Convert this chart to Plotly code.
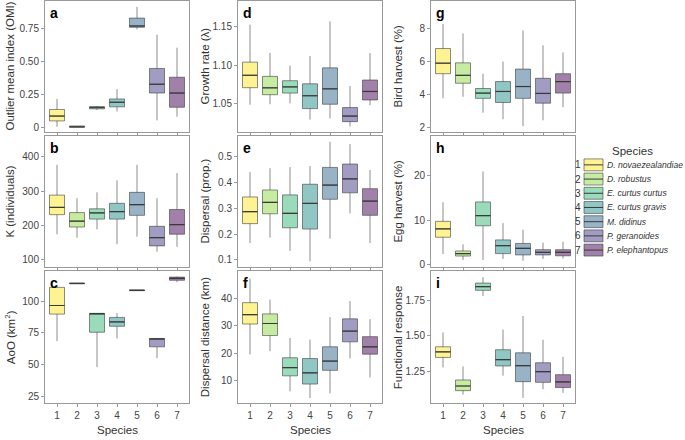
import plotly.graph_objects as go

W, H = 685, 440

species_ids = [1, 2, 3, 4, 5, 6, 7]
species_names = ["D. novaezealandiae", "D. robustus", "E. curtus curtus", "E. curtus gravis",
                 "M. didinus", "P. geranoides", "P. elephantopus"]
viridis7 = [(253, 231, 37), (143, 215, 68), (53, 183, 121), (33, 144, 140),
            (49, 104, 142), (68, 58, 131), (68, 1, 84)]

# Panel a: Outlier mean index (OMI)
a_low = [0.003, 0.0, 0.13, 0.12, 0.745, 0.052, 0.08]
a_q1 = [0.048, 0.0, 0.14, 0.155, 0.76, 0.26, 0.152]
a_med = [0.085, 0.003, 0.152, 0.19, 0.77, 0.327, 0.26]
a_q3 = [0.135, 0.01, 0.155, 0.215, 0.83, 0.447, 0.38]
a_high = [0.215, 0.01, 0.16, 0.29, 0.915, 0.705, 0.605]

# Panel b: K (individuals)
b_low = [175, 165, 189, 146, 168, 124, 138]
b_q1 = [232, 196, 219, 219, 230, 141, 175]
b_med = [253, 213, 237, 241, 261, 165, 203]
b_q3 = [289, 238, 249, 265, 297, 198, 247]
b_high = [377, 280, 297, 332, 377, 280, 353]

# Panel c: AoO (km2)
c_low = [68.5, 113.5, 48, 70.6, 108.2, 55, 115]
c_q1 = [89.8, 113.7, 75.5, 80.2, 108.3, 64, 116.5]
c_med = [96.6, 114, 90.2, 83.6, 108.6, 70.2, 118]
c_q3 = [110.9, 114.2, 90.4, 87.2, 108.9, 70.6, 119]
c_high = [113, 114.4, 90.4, 90.6, 109, 71, 119.5]

# Panel d: Growth rate (lambda)
d_low = [1.049, 1.0496, 1.0508, 1.0297, 1.0314, 1.0208, 1.0483]
d_q1 = [1.071, 1.0619, 1.064, 1.044, 1.0496, 1.0271, 1.0551]
d_med = [1.087, 1.0708, 1.072, 1.0606, 1.0695, 1.0343, 1.0661]
d_q3 = [1.104, 1.0856, 1.080, 1.076, 1.0966, 1.0453, 1.0809]
d_high = [1.1525, 1.116, 1.0996, 1.112, 1.1568, 1.0733, 1.1157]

# Panel e: Dispersal (prop.)
e_low = [0.165, 0.186, 0.135, 0.095, 0.182, 0.280, 0.165]
e_q1 = [0.240, 0.278, 0.224, 0.219, 0.334, 0.359, 0.272]
e_med = [0.286, 0.322, 0.280, 0.318, 0.389, 0.413, 0.327]
e_q3 = [0.343, 0.370, 0.351, 0.392, 0.457, 0.470, 0.375]
e_high = [0.439, 0.454, 0.458, 0.462, 0.556, 0.547, 0.447]

# Panel f: Dispersal distance (km)
f_low = [19.5, 20.7, 6.0, 3.6, 5.3, 18.0, 11.1]
f_q1 = [30.6, 26.4, 11.7, 8.7, 13.7, 24.1, 19.6]
f_med = [34.0, 30.8, 14.7, 12.8, 17.1, 28.0, 22.3]
f_q3 = [38.4, 34.3, 18.3, 18.0, 22.3, 32.5, 26.0]
f_high = [47.2, 39.5, 25.5, 24.9, 33.1, 39.0, 32.4]

# Panel g: Bird harvest (%)
g_low = [3.75, 3.85, 2.88, 2.48, 2.06, 2.42, 3.22]
g_q1 = [5.25, 4.67, 3.75, 3.50, 3.75, 3.46, 4.07]
g_med = [5.89, 5.15, 4.07, 4.17, 4.47, 4.05, 4.77]
g_q3 = [6.78, 5.91, 4.35, 4.77, 5.53, 4.97, 5.25]
g_high = [8.28, 7.70, 5.25, 5.99, 7.88, 6.98, 6.54]

# Panel h: Egg harvest (%)
h_low = [2.3, 0.96, 0.96, 1.2, 0.8, 1.2, 1.3]
h_q1 = [6.1, 1.85, 8.7, 2.4, 2.1, 2.1, 1.9]
h_med = [8.0, 2.4, 11.0, 4.2, 3.6, 2.7, 2.7]
h_q3 = [9.7, 3.0, 14.1, 5.5, 4.7, 3.3, 3.3]
h_high = [14.0, 4.5, 21.0, 9.3, 7.8, 4.9, 5.1]

# Panel i: Functional response
i_low = [1.276, 1.082, 1.786, 1.217, 1.058, 1.120, 1.094]
i_q1 = [1.347, 1.110, 1.826, 1.286, 1.174, 1.169, 1.132]
i_med = [1.387, 1.143, 1.852, 1.331, 1.288, 1.245, 1.172]
i_q3 = [1.423, 1.186, 1.878, 1.402, 1.380, 1.309, 1.224]
i_high = [1.525, 1.283, 1.920, 1.546, 1.643, 1.473, 1.352]

panels = [
    # letter, col, row, title, stats, yrange, tickvals, ticktext
    ("a", 0, 0, "Outlier mean index (OMI)", (a_low, a_q1, a_med, a_q3, a_high), [-0.037, 0.96],
     [0, 0.25, 0.5, 0.75], ["0", "0.25", "0.50", "0.75"]),
    ("b", 0, 1, "K (individuals)", (b_low, b_q1, b_med, b_q3, b_high), [79, 461],
     [100, 200, 300, 400], ["100", "200", "300", "400"]),
    ("c", 0, 2, "AoO (km<sup>2</sup>)", (c_low, c_q1, c_med, c_q3, c_high), [19.5, 123.7],
     [25, 50, 75, 100], ["25", "50", "75", "100"]),
    ("d", 1, 0, "Growth rate (λ)", (d_low, d_q1, d_med, d_q3, d_high), [1.0136, 1.183],
     [1.05, 1.10, 1.15], ["1.05", "1.10", "1.15"]),
    ("e", 1, 1, "Dispersal (prop.)", (e_low, e_q1, e_med, e_q3, e_high), [0.072, 0.578],
     [0.1, 0.2, 0.3, 0.4, 0.5], ["0.1", "0.2", "0.3", "0.4", "0.5"]),
    ("f", 1, 2, "Dispersal distance (km)", (f_low, f_q1, f_med, f_q3, f_high), [1.7, 49.9],
     [10, 20, 30, 40], ["10", "20", "30", "40"]),
    ("g", 2, 0, "Bird harvest (%)", (g_low, g_q1, g_med, g_q3, g_high), [1.7, 9.67],
     [2, 4, 6, 8], ["2", "4", "6", "8"]),
    ("h", 2, 1, "Egg harvest (%)", (h_low, h_q1, h_med, h_q3, h_high), [-0.67, 29.0],
     [0, 10, 20], ["0", "10", "20"]),
    ("i", 2, 2, "Functional response", (i_low, i_q1, i_med, i_q3, i_high), [1.02, 1.963],
     [1.25, 1.50, 1.75], ["1.25", "1.50", "1.75"]),
]

col_px = [(45, 189), (238, 382), (431, 575)]
row_px = [(1, 133), (137, 269), (273, 406)]
ytitle_x = [10, 205, 398]

FONT = "Liberation Sans, Arial, sans-serif"
BOX_W = 0.75
outline = "rgba(50,50,50,0.55)"


def fill(c, a=0.5):
    return "rgba(%d,%d,%d,%.2f)" % (c[0], c[1], c[2], a)


def px_x(p):
    return p / W


def px_y(p):
    return 1 - p / H


fig = go.Figure()
annotations = []
shapes = []
layout = {}

for k, (letter, col, row, title, stats, yr, tv, tt) in enumerate(panels):
    idx = k + 1
    xa = "x" if idx == 1 else "x%d" % idx
    ya = "y" if idx == 1 else "y%d" % idx
    low, q1, med, q3, high = stats
    for s in range(7):
        fig.add_trace(go.Box(
            x=[species_ids[s]], q1=[q1[s]], median=[med[s]], q3=[q3[s]],
            lowerfence=[low[s]], upperfence=[high[s]],
            width=BOX_W, whiskerwidth=0, fillcolor=fill(viridis7[s]),
            line=dict(color=outline, width=1), boxpoints=False,
            showlegend=False, hoverinfo="skip", xaxis=xa, yaxis=ya))
    mx, my = [], []
    for s in range(7):
        mx += [species_ids[s] - BOX_W / 2, species_ids[s] + BOX_W / 2, None]
        my += [med[s], med[s], None]
    fig.add_trace(go.Scatter(x=mx, y=my, mode="lines", line=dict(color="#3a3a3a", width=1.2),
                             showlegend=False, hoverinfo="skip", xaxis=xa, yaxis=ya))

    x0, x1 = col_px[col]
    y0, y1 = row_px[row]
    xkey = "xaxis" if idx == 1 else "xaxis%d" % idx
    ykey = "yaxis" if idx == 1 else "yaxis%d" % idx
    layout[xkey] = dict(
        domain=[px_x(x0), px_x(x1)], range=[0.4, 7.6], anchor=ya,
        tickvals=species_ids, ticktext=[str(v) for v in species_ids],
        showticklabels=(row == 2), ticks="outside", ticklen=3, tickcolor="#999",
        tickfont=dict(size=10, color="#444", family=FONT),
        showline=True, linecolor="#999", linewidth=1, mirror=True,
        showgrid=False, zeroline=False, fixedrange=True)
    layout[ykey] = dict(
        domain=[px_y(y1), px_y(y0)], range=yr, anchor=xa,
        tickvals=tv, ticktext=tt, ticks="outside", ticklen=3, tickcolor="#999",
        tickfont=dict(size=10, color="#444", family=FONT),
        showline=True, linecolor="#999", linewidth=1, mirror=True,
        showgrid=False, zeroline=False, fixedrange=True)

    annotations.append(dict(
        text="<b>%s</b>" % letter, x=px_x(x0 + 3), y=px_y(y0 + 2), xref="paper", yref="paper",
        xanchor="left", yanchor="top", showarrow=False,
        font=dict(size=14, color="#000", family=FONT)))
    annotations.append(dict(
        text=title, x=px_x(ytitle_x[col]), y=px_y((y0 + y1) / 2), xref="paper", yref="paper",
        xanchor="center", yanchor="middle", textangle=-90, showarrow=False,
        font=dict(size=11.5, color="#333", family=FONT)))
    if row == 2:
        annotations.append(dict(
            text="Species", x=px_x((x0 + x1) / 2), y=px_y(433), xref="paper", yref="paper",
            xanchor="center", yanchor="middle", showarrow=False,
            font=dict(size=11.5, color="#333", family=FONT)))

# Custom legend
annotations.append(dict(
    text="Species", x=px_x(610), y=px_y(152), xref="paper", yref="paper",
    xanchor="left", yanchor="middle", showarrow=False,
    font=dict(size=11.5, color="#333", family=FONT)))
for s in range(7):
    cy = 166 + s * 14.3
    shapes.append(dict(type="rect", xref="paper", yref="paper",
                       x0=px_x(584), x1=px_x(603), y0=px_y(cy + 6), y1=px_y(cy - 6),
                       fillcolor=fill(viridis7[s]), line=dict(color=outline, width=1)))
    shapes.append(dict(type="line", xref="paper", yref="paper",
                       x0=px_x(584), x1=px_x(603), y0=px_y(cy), y1=px_y(cy),
                       line=dict(color="#3a3a3a", width=1)))
    annotations.append(dict(
        text=str(species_ids[s]), x=px_x(583), y=px_y(cy), xref="paper", yref="paper",
        xanchor="right", yanchor="middle", showarrow=False,
        font=dict(size=10, color="#333", family=FONT)))
    annotations.append(dict(
        text="<i>%s</i>" % species_names[s], x=px_x(605), y=px_y(cy), xref="paper", yref="paper",
        xanchor="left", yanchor="middle", showarrow=False,
        font=dict(size=8.6, color="#333", family=FONT)))

fig.update_layout(
    width=W, height=H, margin=dict(l=0, r=0, t=0, b=0),
    paper_bgcolor="white", plot_bgcolor="white",
    boxmode="overlay", showlegend=False,
    annotations=annotations, shapes=shapes,
    font=dict(family=FONT, color="#333"),
    **layout)

fig.write_html(
    "out.html",
    config={"displayModeBar": False},
    post_script="document.documentElement.style.margin='0';document.body.style.margin='0';"
                "document.body.style.padding='0';document.body.style.overflow='hidden';")
